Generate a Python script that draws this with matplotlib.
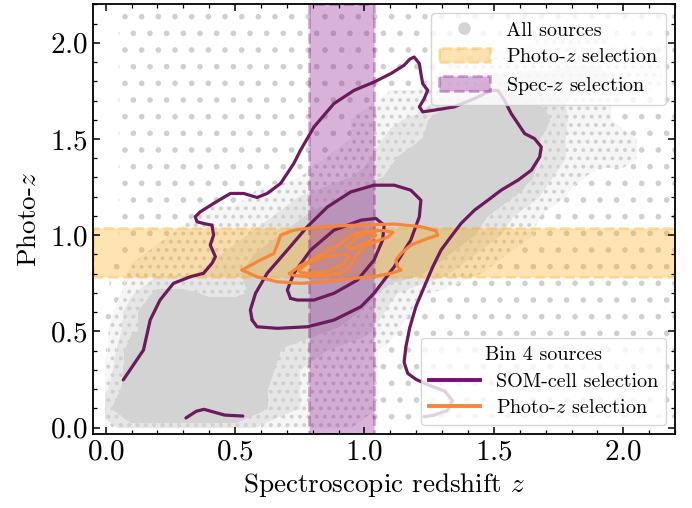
import matplotlib
matplotlib.use("Agg")
import matplotlib.pyplot as plt
from matplotlib.lines import Line2D
import numpy as np

plt.rcParams['font.family'] = 'serif'
plt.rcParams['font.serif'] = ['cmr10', 'DejaVu Serif']
plt.rcParams['mathtext.fontset'] = 'cm'
plt.rcParams['axes.formatter.use_mathtext'] = True
plt.rcParams['hatch.color'] = '#d0d0d0'
plt.rcParams['hatch.linewidth'] = 1.6

# density of all sources (0 = empty ... 8 = solid)
# rows run from z_phot = 2.2 (top) down to 0.0, columns z_spec = 0.0 ... 2.2
density_rows = [
    "01111111111111112222221",
    "01111111111111122222221",
    "01111111111111222333221",
    "01111111111222334444332",
    "01111111112223355566432",
    "01111111122335777643222",
    "01111111223458888743222",
    "01111112223568888643322",
    "01111122234688888643322",
    "01111222345788888532222",
    "01112234568888886422222",
    "01123345788888864222222",
    "01233457888888753222222",
    "02334578888887532222222",
    "03445688888875322222222",
    "04776678888532111111111",
    "16888888886421111111111",
    "26888888765311111111111",
    "28888886543211111111111",
    "38888885443211111111111",
    "48888875443211111111111",
    "68888875443211111111111",
    "36666643332100000000000",
]
grid_z = np.round(np.arange(0, 2.25, 0.1), 1)

photo_sel = (0.785, 1.035)
spec_sel = (0.785, 1.035)

# SOM-cell selection contours
som_outer_x = [0.068, 0.146, 0.172, 0.210, 0.262, 0.327, 0.378, 0.411, 0.424, 0.404, 0.417,
               0.411, 0.378, 0.353, 0.346, 0.366, 0.417, 0.482, 0.533, 0.585, 0.624, 0.676,
               0.727, 0.753, 0.805, 0.882, 0.960, 1.037, 1.102, 1.153, 1.175, 1.192, 1.212,
               1.218, 1.225, 1.244, 1.231, 1.212, 1.225, 1.270, 1.347, 1.425, 1.490, 1.516,
               1.541, 1.567, 1.593, 1.619, 1.657, 1.683, 1.677, 1.645, 1.593, 1.528, 1.477,
               1.425, 1.373, 1.334, 1.296, 1.264, 1.231, 1.199, 1.175, 1.160, 1.153, 1.167,
               1.200, 1.250, 1.310, 1.340, 1.322, 1.270, 1.231]
som_outer_y = [0.248, 0.403, 0.559, 0.663, 0.750, 0.784, 0.802, 0.854, 0.888, 0.949, 1.000,
               1.052, 1.061, 1.070, 1.096, 1.122, 1.165, 1.217, 1.217, 1.196, 1.217, 1.269,
               1.373, 1.442, 1.563, 1.684, 1.753, 1.796, 1.840, 1.883, 1.915, 1.926, 1.892,
               1.840, 1.788, 1.753, 1.710, 1.667, 1.641, 1.650, 1.667, 1.710, 1.753, 1.753,
               1.701, 1.632, 1.580, 1.528, 1.502, 1.459, 1.407, 1.338, 1.286, 1.234, 1.182,
               1.130, 1.061, 0.992, 0.923, 0.836, 0.732, 0.630, 0.520, 0.420, 0.340, 0.282,
               0.250, 0.220, 0.190, 0.140, 0.090, 0.065, 0.057]
som_tail_x = [0.31, 0.35, 0.38, 0.42, 0.46, 0.53]
som_tail_y = [0.05, 0.085, 0.095, 0.08, 0.065, 0.06]
som_mid_x = [0.566, 0.559, 0.579, 0.624, 0.702, 0.779, 0.857, 0.947, 1.037, 1.115, 1.179,
             1.218, 1.212, 1.179, 1.115, 1.037, 0.986, 0.882, 0.779, 0.663, 0.585, 0.566]
som_mid_y = [0.559, 0.611, 0.698, 0.802, 0.923, 1.044, 1.147, 1.225, 1.260, 1.260, 1.234,
             1.182, 1.096, 0.975, 0.836, 0.698, 0.628, 0.559, 0.524, 0.516, 0.524, 0.559]
som_in_x = [0.714, 0.702, 0.727, 0.792, 0.882, 0.986, 1.044, 1.076, 1.070, 1.037, 0.973,
            0.882, 0.805, 0.740, 0.714]
som_in_y = [0.672, 0.715, 0.802, 0.923, 1.026, 1.078, 1.087, 1.052, 0.975, 0.871, 0.767,
            0.698, 0.663, 0.663, 0.672]

# photo-z selection contours
pz_outer_x = [0.527, 0.598, 0.650, 0.663, 0.676, 0.727, 0.831, 0.960, 1.115, 1.218, 1.276,
              1.283, 1.244, 1.179, 1.141, 1.121, 1.128, 1.141, 1.102, 1.050, 0.960, 0.857,
              0.753, 0.663, 0.585, 0.527]
pz_outer_y = [0.819, 0.871, 0.905, 0.949, 1.000, 1.026, 1.044, 1.052, 1.058, 1.044, 1.023,
              1.000, 0.983, 0.949, 0.905, 0.871, 0.836, 0.819, 0.802, 0.788, 0.776, 0.758,
              0.750, 0.758, 0.784, 0.819]
pz_mid_x = [0.71, 0.75, 0.82, 0.90, 0.95, 1.00, 1.07, 1.11, 1.09, 1.04, 1.00, 0.97, 0.95,
            0.92, 0.86, 0.78, 0.73, 0.71]
pz_mid_y = [0.80, 0.84, 0.89, 0.95, 1.00, 1.02, 1.025, 1.015, 0.99, 0.965, 0.94, 0.90, 0.85,
            0.81, 0.79, 0.785, 0.79, 0.80]
pz_top_x = [0.934, 0.973, 1.024, 1.044, 1.012, 0.960, 0.940, 0.934]
pz_top_y = [0.940, 0.992, 1.018, 1.000, 0.966, 0.931, 0.928, 0.940]
pz_low_x = [0.747, 0.779, 0.843, 0.921, 0.940, 0.921, 0.857, 0.779, 0.750, 0.747]
pz_low_y = [0.819, 0.854, 0.888, 0.902, 0.888, 0.854, 0.810, 0.802, 0.808, 0.819]

gray = '#d3d3d3'
som_color = '#6b1a5b'
pz_color = '#f5863a'

density = np.array([[int(c) for c in row] for row in density_rows])[::-1]

fig = plt.figure(figsize=(6.92, 5.08), dpi=100)
ax = fig.add_axes([0.134, 0.145, 0.8415, 0.8465])

ax.contourf(grid_z, grid_z, density, levels=[0.5, 2.5, 4.5, 6.5, 9.5],
            colors=['none', '#f6f6f6', '#e6e6e6', gray],
            hatches=['.', '..', '..', None], zorder=0)

ph = ax.axhspan(*photo_sel, color='orange', alpha=0.3, ls='--', lw=2, zorder=1,
                label='Photo-$z$ selection')
sp = ax.axvspan(*spec_sel, color='purple', alpha=0.3, ls='--', lw=2, zorder=1,
                label='Spec-$z$ selection')

kw = dict(lw=2.3, solid_capstyle='round', solid_joinstyle='round', zorder=3)
ax.plot(som_outer_x, som_outer_y, color=som_color, **kw)
ax.plot(som_tail_x, som_tail_y, color=som_color, **kw)
ax.plot(som_mid_x, som_mid_y, color=som_color, **kw)
ax.plot(som_in_x, som_in_y, color=som_color, **kw)
ax.plot(pz_outer_x, pz_outer_y, color=pz_color, **kw)
ax.plot(pz_mid_x, pz_mid_y, color=pz_color, **kw)
ax.plot(pz_top_x, pz_top_y, color=pz_color, **kw)
ax.plot(pz_low_x, pz_low_y, color=pz_color, **kw)

ax.set_xlim(-0.05, 2.2)
ax.set_ylim(-0.035, 2.2)
ax.set_xticks([0.0, 0.5, 1.0, 1.5, 2.0])
ax.set_yticks([0.0, 0.5, 1.0, 1.5, 2.0])
ax.minorticks_on()
ax.tick_params(which='both', direction='in', top=True, right=True, labelsize=21)
ax.tick_params(which='major', length=5, width=1.1)
ax.tick_params(which='minor', length=2.8, width=0.9)
for s in ax.spines.values():
    s.set_linewidth(1.3)
ax.set_xlabel('Spectroscopic redshift $z$', fontsize=19.5, labelpad=4)
ax.set_ylabel('Photo-$z$', fontsize=19.5, labelpad=6)

all_h = Line2D([], [], marker='o', ls='', color=gray, ms=8, label='All sources')
leg1 = ax.legend(handles=[all_h, ph, sp], loc='upper right', fontsize=14.5,
                 handlelength=2.5, borderaxespad=0.45, labelspacing=0.42)
leg1.set_zorder(5)
ax.add_artist(leg1)
bin_h = [Line2D([], [], color='#7d0a78', lw=2.8, label='SOM-cell selection'),
         Line2D([], [], color=pz_color, lw=2.8, label='Photo-$z$ selection')]
leg2 = ax.legend(handles=bin_h, loc='lower right', fontsize=14.5, handlelength=2.5,
                 borderaxespad=0.45, labelspacing=0.42,
                 title='Bin 4 sources', title_fontsize=14.5)
leg2.set_zorder(5)

fig.savefig('out.png', dpi=100)
